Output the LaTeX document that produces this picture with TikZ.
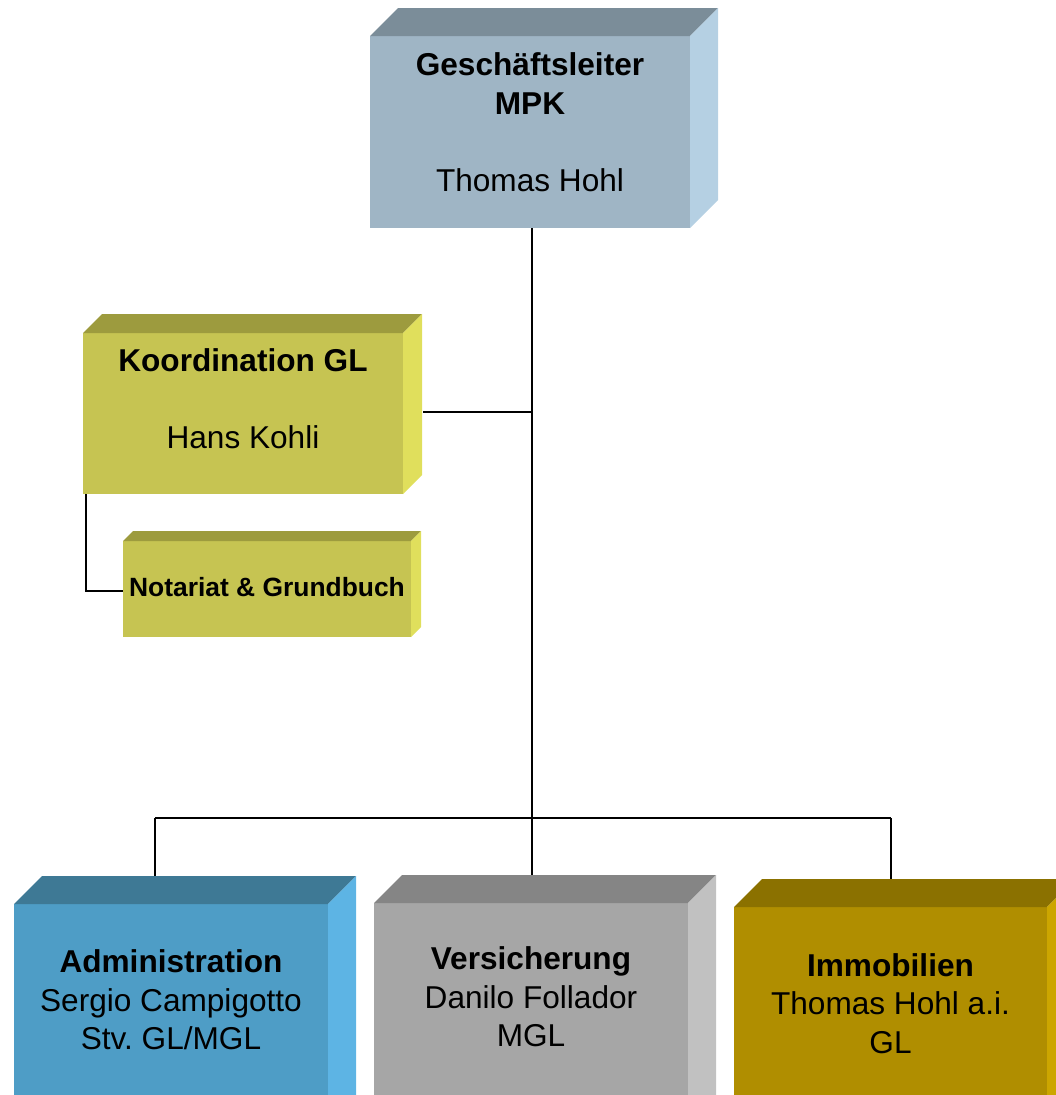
\documentclass[tikz,border=0pt]{standalone}
\usepackage{fontspec}
\setmainfont{Liberation Sans}
\frenchspacing
\usetikzlibrary{calc,fit}
\definecolor{glF}{HTML}{9FB5C5}\definecolor{glT}{HTML}{7B8D99}\definecolor{glR}{HTML}{B5D0E3}
\definecolor{yeF}{HTML}{C6C452}\definecolor{yeT}{HTML}{9D9B3E}\definecolor{yeR}{HTML}{E0DF5C}
\definecolor{adF}{HTML}{4E9DC6}\definecolor{adT}{HTML}{3E7995}\definecolor{adR}{HTML}{5DB4E4}
\definecolor{veF}{HTML}{A6A6A6}\definecolor{veT}{HTML}{858585}\definecolor{veR}{HTML}{C1C1C1}
\definecolor{imF}{HTML}{B08E00}\definecolor{imT}{HTML}{8B7100}\definecolor{imR}{HTML}{CCA600}
\newcommand\orgcube[9]{%
  \path (#2,#3) coordinate (#1-nw) (#4,#5) coordinate (#1-se);
  \node[inner sep=0pt, outer sep=0pt, fit=(#1-nw)(#1-se), fill=#7] (#1) {};
  \fill[#8] (#1.north west) -- ++(#6,-#6) -- ($(#1.north east)+(#6,-#6)$) -- (#1.north east) -- cycle;
  \fill[#9] (#1.north east) -- ++(#6,-#6) -- ($(#1.south east)+(#6,-#6)$) -- (#1.south east) -- cycle;
}
\tikzset{
  conn/.style={line width=1.3pt, black},
  big/.style={align=center, inner sep=0pt, font=\fontsize{31.6}{38.5}\selectfont\frenchspacing},
  small/.style={align=center, inner sep=0pt, font=\fontsize{26.4}{32}\selectfont\bfseries},
}
\begin{document}
\begin{tikzpicture}[x=1pt,y=-1pt]
\useasboundingbox (0,0) rectangle (1056,1095);
\clip (0,0) rectangle (1056,1095);
% connector coordinates
\coordinate (bus) at (532,818);
\coordinate (busL) at (155,818);
\coordinate (busR) at (891,818);
\coordinate (jk) at (532,412);
\coordinate (kr) at (423,412);
\coordinate (kl) at (86,494);
\coordinate (nl) at (123,591);
\coordinate (at) at (155,904);
\coordinate (vt) at (532,903);
\coordinate (it) at (891,907);
\coordinate (gb) at (532,228);
% connectors
\draw[conn] (gb) -- (bus);
\draw[conn] (kr) -- (jk);
\draw[conn] (busL) -- (busR);
\draw[conn] (busL) -- (at);
\draw[conn] (bus) -- (vt);
\draw[conn] (busR) -- (it);
\draw[conn] (kl) |- (nl);
% boxes
\orgcube{gl}{370}{36}{690}{228}{28}{glF}{glT}{glR}
\orgcube{ko}{83}{333}{403}{494}{19}{yeF}{yeT}{yeR}
\orgcube{no}{123}{541}{411}{637}{10}{yeF}{yeT}{yeR}
\orgcube{ad}{14}{904}{328}{1130}{28}{adF}{adT}{adR}
\orgcube{ve}{374}{903}{688}{1130}{28}{veF}{veT}{veR}
\orgcube{im}{734}{907}{1047}{1130}{28}{imF}{imT}{imR}
% texts
\node[big] (glt) at (530,122) {\textbf{Geschäftsleiter}\\\textbf{MPK}\\[38.5pt]Thomas Hohl};
\node[big] (kot) at (243,398.5) {\textbf{Koordination GL}\\[38.5pt]Hans Kohli};
\node[small] (not) at (267,587.5) {Notariat \& Grundbuch};
\node[big] (adt) at (171,1000) {\textbf{Administration}\\Sergio Campigotto\\Stv. GL/MGL};
\node[big] (vet) at (531,997) {\textbf{Versicherung}\\Danilo Follador\\MGL};
\node[big] (imt) at (890.5,1003.5) {\textbf{Immobilien}\\Thomas Hohl a.i.\\GL};
\end{tikzpicture}
\end{document}
